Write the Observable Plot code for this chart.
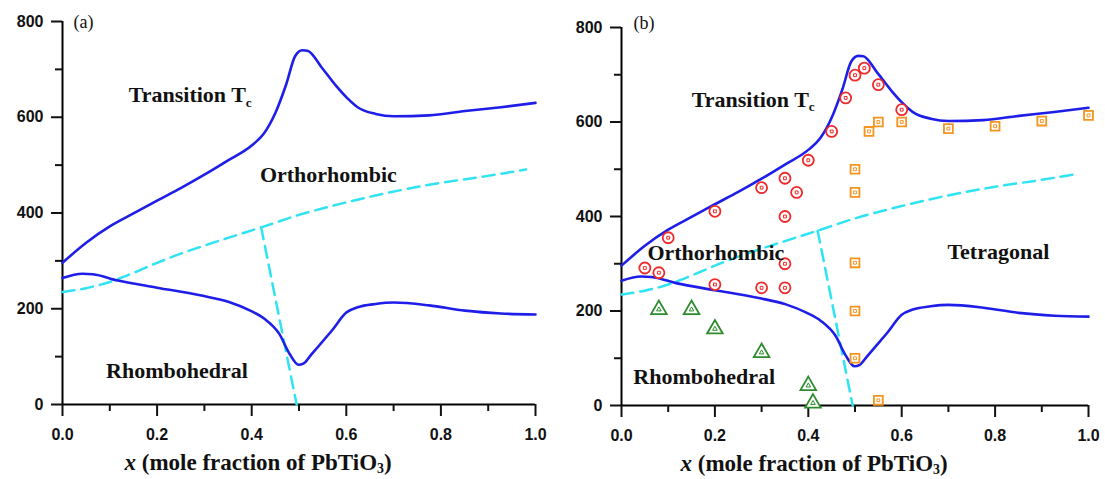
<!DOCTYPE html>
<html>
<head>
<meta charset="utf-8">
<script src="https://cdn.jsdelivr.net/npm/d3@7"></script>
<script src="https://cdn.jsdelivr.net/npm/@observablehq/plot@0.6"></script>
<style>
  html, body { margin: 0; padding: 0; background: #fff; }
  #wrap { display: flex; flex-direction: row; width: 1105px; height: 479px; }
  svg { display: block; }
</style>
</head>
<body>
<div id="wrap"></div>
<script>
// ---- Data ----
const xTicks = [0, 0.2, 0.4, 0.6, 0.8, 1.0];
const xMinorTicks = [0.1, 0.3, 0.5, 0.7, 0.9];
const yTicks = [0, 200, 400, 600, 800];
const yMinorTicks = [100, 300, 500, 700];

// Transition Tc (upper curve)
const upperX = [0, 0.05, 0.1, 0.15, 0.2, 0.25, 0.3, 0.35, 0.40, 0.425, 0.45, 0.473, 0.492, 0.507, 0.518, 0.548, 0.579, 0.601, 0.624, 0.662, 0.70, 0.775, 0.851, 0.927, 1.0];
const upperT = [296, 338, 372, 399, 426, 452, 480, 510, 541, 565, 609, 669, 728, 740, 739, 704, 665, 641, 621, 607, 602, 604, 613, 621, 630];

// Rhombohedral–orthorhombic boundary (lower curve)
const lowerX = [0, 0.042, 0.064, 0.117, 0.2, 0.291, 0.352, 0.397, 0.427, 0.458, 0.48, 0.499, 0.51, 0.525, 0.545, 0.57, 0.60, 0.624, 0.662, 0.70, 0.775, 0.851, 0.927, 1.0];
const lowerT = [264, 273, 272, 259, 244, 228, 214, 196, 179, 148, 106, 83, 86, 103, 126, 155, 192, 203, 210, 213, 207, 196, 190, 188];

// Dashed boundary: rising branch (left + right of the corner)
const dashX = [0, 0.05, 0.1, 0.15, 0.2, 0.25, 0.3, 0.35, 0.42, 0.5, 0.583, 0.687, 0.8, 0.896, 0.98];
const dashT = [235, 243, 256, 275, 296, 315, 332, 348, 370, 396, 418, 442, 463, 477, 491];
// Dashed boundary: descending branch (MPB)
const mpbX = [0.42, 0.495];
const mpbT = [370, 0];

// Panel (b) measured points
const redX = [0.05, 0.08, 0.10, 0.20, 0.20, 0.30, 0.30, 0.35, 0.35, 0.35, 0.35, 0.375, 0.40, 0.45, 0.48, 0.50, 0.52, 0.55, 0.60];
const redT = [291, 281, 355, 256, 411, 249, 461, 249, 300, 400, 481, 451, 519, 580, 651, 699, 714, 679, 626];
const orangeX = [0.50, 0.50, 0.50, 0.50, 0.50, 0.53, 0.55, 0.55, 0.60, 0.70, 0.80, 0.90, 1.00];
const orangeT = [100, 200, 302, 451, 500, 580, 600, 11, 600, 586, 591, 602, 614];
const greenX = [0.08, 0.15, 0.20, 0.30, 0.40, 0.41];
const greenT = [203, 203, 162, 112, 42, 5];

// Labels
const labelsA = [
  {x: 0.27, y: 646, t: "Transition Tc"},
  {x: 0.562, y: 480, t: "Orthorhombic"},
  {x: 0.242, y: 71, t: "Rhombohedral"}
];
const labelsB = [
  {x: 0.282, y: 647, t: "Transition Tc"},
  {x: 0.202, y: 323, t: "Orthorhombic"},
  {x: 0.807, y: 325, t: "Tetragonal"},
  {x: 0.177, y: 60, t: "Rhombohedral"}
];
const xLabel = "x (mole fraction of PbTiO3)";

// ---- Build ----
const zip = (xs, ys) => xs.map((x, i) => ({x, y: ys[i]}));
const upper = zip(upperX, upperT);
const lower = zip(lowerX, lowerT);
const dash = zip(dashX, dashT);
const mpb = zip(mpbX, mpbT);
const red = zip(redX, redT);
const orange = zip(orangeX, orangeT);
const green = zip(greenX, greenT);

const BLUE = "#1e1ee8", CYAN = "#2fe3f2", RED = "#ee2a2a", ORANGE = "#f7941d", GREEN = "#2d8c2d";
const SANS = "Liberation Sans, Arial, sans-serif";
const SERIF = "Liberation Serif, Times New Roman, serif";

function panel(opts) {
  const marks = [
    Plot.ruleX([0], {stroke: "#000", strokeWidth: 2}),
    Plot.ruleY([0], {stroke: "#000", strokeWidth: 2}),
    Plot.axisX({ticks: xTicks, tickFormat: d => d.toFixed(1), tickSize: 12, tickPadding: 12, strokeWidth: 2, label: null,
      fontSize: 16, fontWeight: "bold", fontFamily: SANS}),
    Plot.axisX({ticks: xMinorTicks, tickSize: 7, strokeWidth: 2, text: null, label: null}),
    Plot.axisY({ticks: yTicks, tickSize: 11, tickPadding: 8, strokeWidth: 2, label: null,
      fontSize: 16, fontWeight: "bold", fontFamily: SANS}),
    Plot.axisY({ticks: yMinorTicks, tickSize: 7, strokeWidth: 2, text: null, label: null}),
    Plot.line(dash, {x: "x", y: "y", stroke: CYAN, strokeWidth: 2.5, strokeDasharray: "12,7", curve: "monotone-x"}),
    Plot.line(mpb, {x: "x", y: "y", stroke: CYAN, strokeWidth: 2.5, strokeDasharray: "12,7"}),
    Plot.line(upper, {x: "x", y: "y", stroke: BLUE, strokeWidth: 2.6, curve: "monotone-x"}),
    Plot.line(lower, {x: "x", y: "y", stroke: BLUE, strokeWidth: 2.6, curve: "monotone-x"}),
    ...opts.extra,
    Plot.text(opts.labels, {x: "x", y: "y", text: "t", fontFamily: SERIF, fontWeight: "bold", fontSize: 22, fill: "#111", letterSpacing: "0.5px"}),
    Plot.text([opts.tag], {frameAnchor: "top-left", textAnchor: "start", lineAnchor: "middle", dx: opts.tagDx, dy: opts.tagDy, fontFamily: SERIF, fontWeight: "normal", fontSize: 18, fill: "#111"}),
    Plot.text([xLabel], {frameAnchor: "bottom-left", textAnchor: "start", lineAnchor: "middle", dx: opts.xlDx, dy: 58, fontFamily: SERIF, fontWeight: "bold", fontSize: 23, fill: "#111", letterSpacing: "0.4px"})
  ];
  const svg = Plot.plot({
    width: opts.width, height: 479,
    marginLeft: opts.ml, marginRight: opts.mr, marginTop: opts.mt, marginBottom: opts.mb,
    x: {domain: [0, 1]},
    y: {domain: [0, 800]},
    style: {fontFamily: SANS, fontSize: "16px", fontWeight: "bold", color: "#111", background: "#fff", overflow: "visible"},
    marks
  });
  // subscripts / italics
  d3.select(svg).selectAll("text").each(function() {
    const t = this.textContent;
    const s = d3.select(this);
    if (t === "Transition Tc") {
      s.text(null);
      s.append("tspan").text("Transition T");
      s.append("tspan").attr("font-size", "0.6em").attr("dy", "0.35em").text("c");
    } else if (t === xLabel) {
      s.text(null);
      s.append("tspan").attr("font-style", "italic").text("x");
      s.append("tspan").text(" (mole fraction of PbTiO");
      s.append("tspan").attr("font-size", "0.6em").attr("dy", "0.25em").text("3");
      s.append("tspan").attr("dy", "-0.15em").text(")");
    }
  });
  return svg;
}

const extraB = [
  Plot.dot(red, {x: "x", y: "y", r: 5.5, stroke: RED, strokeWidth: 1.8, fill: "#fff"}),
  Plot.dot(red, {x: "x", y: "y", r: 1.6, symbol: "square", stroke: RED, strokeWidth: 1, fill: "none"}),
  Plot.dot(orange, {x: "x", y: "y", r: 5, symbol: "square", stroke: ORANGE, strokeWidth: 1.8, fill: "#fff"}),
  Plot.dot(orange, {x: "x", y: "y", r: 1.6, symbol: "square", stroke: ORANGE, strokeWidth: 1, fill: "none"}),
  Plot.dot(green, {x: "x", y: "y", r: 5.8, symbol: "triangle", stroke: GREEN, strokeWidth: 1.8, fill: "#fff"}),
  Plot.dot(green, {x: "x", y: "y", r: 1.7, symbol: "triangle", stroke: GREEN, strokeWidth: 1, fill: "none"})
];

const wrap = document.getElementById("wrap");
wrap.appendChild(panel({width: 560, ml: 62, mr: 25, mt: 21, mb: 75, labels: labelsA, extra: [], tag: "(a)", tagDx: 11, tagDy: 1, xlDx: 62}));
wrap.appendChild(panel({width: 545, ml: 61, mr: 17, mt: 27, mb: 74, labels: labelsB, extra: extraB, tag: "(b)", tagDx: 12, tagDy: -4, xlDx: 59}));
</script>
</body>
</html>
